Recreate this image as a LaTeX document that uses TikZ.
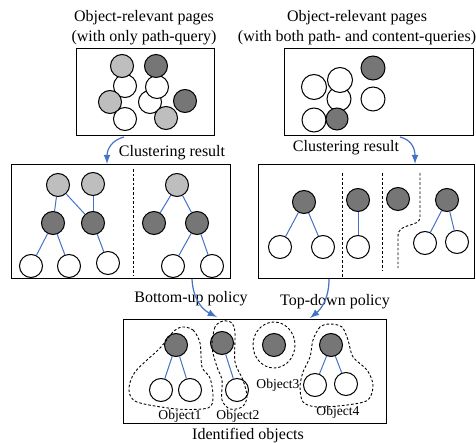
\documentclass[tikz,border=0pt]{standalone}
\usepackage{fontspec}
\setmainfont{Liberation Serif}
\definecolor{lightpage}{RGB}{190,190,190}
\definecolor{darkpage}{RGB}{118,118,118}
\definecolor{linkblue}{RGB}{68,114,196}

\begin{document}
\begin{tikzpicture}[x=0.5pt,y=-0.5pt,
    page/.style={circle,draw,line width=0.5pt,inner sep=0pt,minimum size=11.5pt},
    wt/.style={page,fill=white},
    lt/.style={page,fill=lightpage},
    dk/.style={page,fill=darkpage},
    link/.style={draw=linkblue,line width=0.5pt},
    flow/.style={draw=linkblue,line width=0.6pt,-latex},
    panel/.style={draw,line width=0.5pt},
    sep/.style={dash pattern=on 1.3pt off 1pt,line width=0.45pt},
    lbl/.style={font=\fontsize{8}{10}\selectfont,align=center,inner sep=0pt},
    tag/.style={font=\fontsize{6.8}{8}\selectfont,inner sep=0pt}]
    \useasboundingbox (0,0) rectangle (476,443);

    % Titles
    \node[lbl] (tl) at (144,28) {Object-relevant pages\\(with only path-query)};
    \node[lbl] (tr) at (357,28) {Object-relevant pages\\(with both path- and content-queries)};

    % Pages (only path-query)
    \draw[panel] (76,49) rectangle (214,136);
    \node[wt] (a1) at (125,86) {};
    \node[wt] (a2) at (125,119) {};
    \node[wt] (a3) at (150,102) {};
    \node[wt] (a4) at (157,87) {};
    \node[lt] (a5) at (122,66) {};
    \node[lt] (a6) at (110,102) {};
    \node[lt] (a7) at (166,118) {};
    \node[dk] (a8) at (156,66) {};
    \node[dk] (a9) at (185,101) {};

    % Pages (path- and content-queries)
    \draw[panel] (284,49) rectangle (473,136);
    \node[wt,minimum size=12.5pt] (b1) at (314,87) {};
    \node[wt,minimum size=12pt] (b2) at (339,99) {};
    \node[wt,minimum size=12.5pt] (b3) at (340,80) {};
    \node[wt,minimum size=12pt] (b4) at (314,120) {};
    \node[dk,minimum size=11pt] (b5) at (337,119) {};
    \node[dk,minimum size=12pt] (b6) at (373,68) {};
    \node[wt,minimum size=12pt] (b7) at (373,99) {};

    % Clustering result (left)
    \node[lbl] (cl) at (172,153) {Clustering result};
    \draw[panel] (11,165) rectangle (230,278);
    \draw[sep] (133,169) -- (133,275);
    \node[lt] (l1) at (58,185) {};
    \node[lt] (l2) at (93,184) {};
    \node[dk] (l3) at (53,223) {};
    \node[dk] (l4) at (93,223) {};
    \node[wt] (l5) at (31,266) {};
    \node[wt] (l6) at (69,266) {};
    \node[wt] (l7) at (108,263) {};
    \node[lt] (l8) at (177,185) {};
    \node[dk] (l9) at (154,223) {};
    \node[dk] (l10) at (197,223) {};
    \node[wt] (l11) at (173,266) {};
    \node[wt] (l12) at (212,266) {};
    \path[link] (l1) edge (l3) edge (l4);
    \path[link] (l2) edge (l4);
    \path[link] (l3) edge (l5) edge (l6);
    \path[link] (l4) edge (l7);
    \path[link] (l8) edge (l9) edge (l10);
    \path[link] (l10) edge (l11) edge (l12);

    % Clustering result (right)
    \node[lbl] (cr) at (346,148) {Clustering result};
    \draw[panel] (258,165) rectangle (474.5,278);
    \draw[sep] (342,173) -- (342,277);
    \draw[sep] (382,173) -- (382,270);
    \draw[sep] (420,173) -- (420,217) .. controls (420,228) and (398,222) .. (398,236) -- (398,268);
    \node[dk] (r1) at (304,202) {};
    \node[wt] (r2) at (280,247) {};
    \node[wt] (r3) at (323,247) {};
    \node[dk] (r4) at (358,200) {};
    \node[wt] (r5) at (358,247) {};
    \node[dk] (r6) at (398,199) {};
    \node[dk] (r7) at (447,200) {};
    \node[wt] (r8) at (425,243) {};
    \node[wt] (r9) at (457,242) {};
    \path[link] (r1) edge (r2) edge (r3);
    \path[link] (r4) edge (r5);
    \path[link] (r7) edge (r8) edge (r9);

    % Policies
    \node[lbl] (bu) at (191,299) {Bottom-up policy};
    \node[lbl] (td) at (335,302) {Top-down policy};

    % Identified objects
    \draw[panel] (123,319) rectangle (386,423);
    \node[dk] (o1) at (176,345) {};
    \node[wt] (o2) at (161,390) {};
    \node[wt] (o3) at (190,390) {};
    \node[dk] (o4) at (222,343) {};
    \node[wt] (o5) at (237,390) {};
    \node[dk] (o6) at (274,345) {};
    \node[dk] (o7) at (331,345) {};
    \node[wt] (o8) at (315,385) {};
    \node[wt] (o9) at (346,384) {};
    \path[link] (o1) edge (o2) edge (o3);
    \path[link] (o4) edge (o5);
    \path[link] (o7) edge (o8) edge (o9);
    \draw[sep] plot[smooth cycle] coordinates {(182,327) (193,330) (200,343) (202,367)
      (210,378) (213,397) (208,408) (177,409) (137,402) (129,390) (135,372) (160,348) (173,332)};
    \draw[sep] plot[smooth cycle] coordinates {(223,321) (215,327) (212,347) (217,367)
      (222,380) (222,400) (230,409) (242,407) (247,397) (243,380) (235,362) (235,333) (232,323)};
    \draw[sep] (274,345) ellipse [x radius=21, y radius=23];
    \draw[sep] plot[smooth cycle] coordinates {(330,324) (320,327) (313,340) (310,357)
      (303,372) (300,387) (303,402) (317,407) (347,405) (368,400) (373,385) (367,370)
      (353,357) (348,340) (342,327)};
    \node[tag] (n1) at (180,416) {Object1};
    \node[tag] (n2) at (238,416) {Object2};
    \node[tag] (n3) at (278,385) {Object3};
    \node[tag] (n4) at (338,412) {Object4};
    \node[lbl] (io) at (248,436) {Identified objects};

    % Arrows
    \coordinate (s1) at (124,137);
    \coordinate (e1) at (107,164);
    \coordinate (s2) at (400,137);
    \coordinate (e2) at (415,164);
    \coordinate (s3) at (192,279);
    \coordinate (e3) at (217,317);
    \coordinate (s4) at (329,279);
    \coordinate (e4) at (310,318);
    \draw[flow] (s1) .. controls (112,140) and (107,149) .. (e1);
    \draw[flow] (s2) .. controls (412,140) and (415,149) .. (e2);
    \draw[flow] (s3) .. controls (193,300) and (203,310) .. (e3);
    \draw[flow] (s4) .. controls (329,300) and (320,310) .. (e4);
\end{tikzpicture}
\end{document}
